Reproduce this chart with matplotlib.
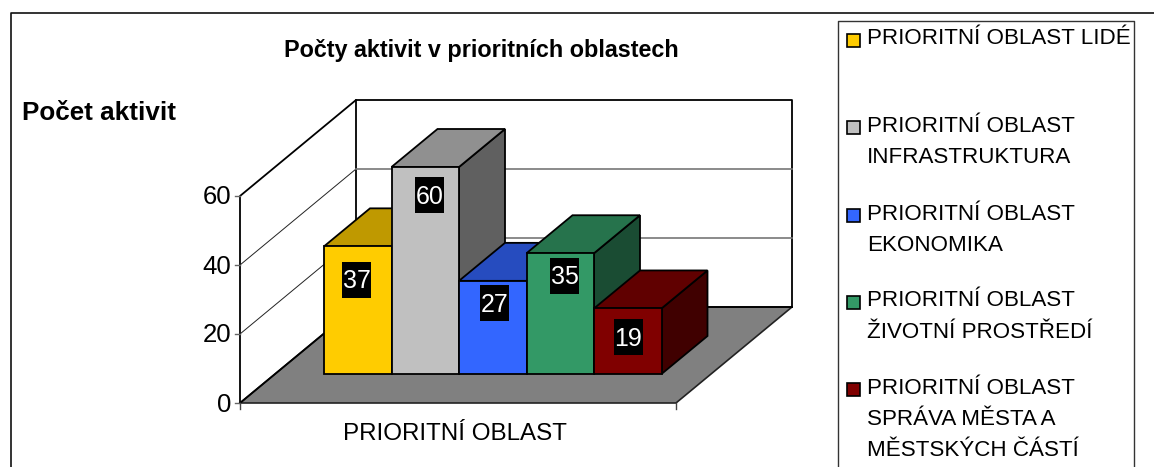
import matplotlib
matplotlib.use('Agg')
import matplotlib.pyplot as plt
from matplotlib.patches import Polygon, Rectangle

plt.rcParams['font.family'] = ['Liberation Sans', 'DejaVu Sans']

title = 'Počty aktivit v prioritních oblastech'
y_title = 'Počet aktivit'
x_label = 'PRIORITNÍ OBLAST'
values = [37, 60, 27, 35, 19]
y_ticks = [0, 20, 40, 60]
legend_labels = ['PRIORITNÍ OBLAST LIDÉ',
                 'PRIORITNÍ OBLAST\nINFRASTRUKTURA',
                 'PRIORITNÍ OBLAST\nEKONOMIKA',
                 'PRIORITNÍ OBLAST\nŽIVOTNÍ PROSTŘEDÍ',
                 'PRIORITNÍ OBLAST\nSPRÁVA MĚSTA A\nMĚSTSKÝCH ČÁSTÍ']
front_colors = ['#FFCC00', '#C0C0C0', '#3366FF', '#339966', '#800000']
top_colors = ['#BF9900', '#909090', '#264CBF', '#26734C', '#600000']
side_colors = ['#7F6600', '#606060', '#19337F', '#1A4C33', '#400000']

W, H = 1154, 467
fig = plt.figure(figsize=(W / 100, H / 100), dpi=100)
ax = fig.add_axes([0, 0, 1, 1])
ax.set_xlim(0, W)
ax.set_ylim(H, 0)
ax.axis('off')

# chart geometry in pixels
x0, y0 = 240, 403          # front left floor corner
px_per_unit = 3.45
wall_dx, wall_dy = 116, -96
floor_w = 436
bar_left, bar_w, bar_base = 324, 67.5, 374
bar_dx, bar_dy = 46, -38
lw = 1.3


def val_y(v, base=y0):
    return base - v * px_per_unit


# outer frame
ax.plot([10.5, 10.5, W], [H, 12.5, 12.5], color='#111111', lw=1.2)

# walls
top = y_ticks[-1]
ax.add_patch(Polygon([(x0, val_y(0)), (x0 + wall_dx, val_y(0) + wall_dy),
                      (x0 + wall_dx + floor_w, val_y(0) + wall_dy),
                      (x0 + floor_w, val_y(0))],
                     fc='#808080', ec='#222222', lw=1.2, zorder=1))
ax.plot([x0, x0, x0 + wall_dx, x0 + wall_dx + floor_w, x0 + wall_dx + floor_w],
        [val_y(0), val_y(top), val_y(top) + wall_dy, val_y(top) + wall_dy, val_y(0) + wall_dy],
        color='black', lw=lw, zorder=2)
ax.plot([x0 + wall_dx, x0 + wall_dx], [val_y(top) + wall_dy, val_y(0) + wall_dy],
        color='black', lw=lw, zorder=2)
ax.plot([x0 + wall_dx, x0 + wall_dx + floor_w], [val_y(0) + wall_dy] * 2,
        color='black', lw=lw, zorder=2)
ax.plot([x0, x0 + wall_dx], [val_y(0), val_y(0) + wall_dy], color='black', lw=lw, zorder=2)

# gridlines
for t in y_ticks[1:-1]:
    ax.plot([x0, x0 + wall_dx], [val_y(t), val_y(t) + wall_dy], color='#222222', lw=0.7, zorder=2)
    ax.plot([x0 + wall_dx, x0 + wall_dx + floor_w], [val_y(t) + wall_dy] * 2,
            color='#777777', lw=1.2, zorder=2)

# y ticks and labels
for t in y_ticks:
    ax.plot([x0 - 5, x0], [val_y(t), val_y(t)], color='#666666', lw=1, zorder=2)
    ax.text(x0 - 9, val_y(t) + 1.5, str(t), ha='right', va='center', fontsize=18.5, color='black')
ax.plot([x0, x0], [val_y(0), val_y(0) + 6], color='#444444', lw=1, zorder=2)
ax.plot([x0 + floor_w, x0 + floor_w], [val_y(0), val_y(0) + 6], color='#444444', lw=1, zorder=2)

# bars
for i, v in enumerate(values):
    left = bar_left + i * bar_w
    right = left + bar_w
    ytop = val_y(v, bar_base)
    z = 3 + i
    ax.add_patch(Polygon([(right, ytop), (right + bar_dx, ytop + bar_dy),
                          (right + bar_dx, bar_base + bar_dy), (right, bar_base)],
                         fc=side_colors[i], ec='black', lw=lw, zorder=z))
    ax.add_patch(Polygon([(left, ytop), (left + bar_dx, ytop + bar_dy),
                          (right + bar_dx, ytop + bar_dy), (right, ytop)],
                         fc=top_colors[i], ec='black', lw=lw, zorder=z))
    ax.add_patch(Rectangle((left, ytop), bar_w, bar_base - ytop,
                           fc=front_colors[i], ec='black', lw=lw, zorder=z))

# value labels sit in black boxes, drawn last so neighbours never cover them
label_ys = [280, 195, 303, 276, 337]
label_xs = [356.5, 429.5, 494.5, 564.5, 628.5]
for v, lx, ly in zip(values, label_xs, label_ys):
    ax.add_patch(Rectangle((lx - 14.5, ly - 18), 29, 36, fc='black', ec='none', zorder=10))
    ax.text(lx, ly + 1.5, str(v), ha='center', va='center', fontsize=18, color='white', zorder=11)

# titles
ax.text(481, 50, title, ha='center', va='center', fontsize=16.8, fontweight='bold', color='black')
ax.text(22, 113, y_title, ha='left', va='center', fontsize=18.7, fontweight='bold', color='black')
ax.text(455, 434, x_label, ha='center', va='center', fontsize=17.4, color='black')

# legend
ax.plot([838, 838, 1134, 1134], [H, 20.5, 20.5, H], color='#333333', lw=1)
key_ys = [40, 127, 215, 302, 389]
line_h = 31.5
for lab, c, ky in zip(legend_labels, front_colors, key_ys):
    ax.add_patch(Rectangle((847, ky - 6.5), 13, 13, fc=c, ec='black', lw=1.2))
    for j, part in enumerate(lab.split('\n')):
        ax.text(867, ky - 1 + j * line_h, part, ha='left', va='center', fontsize=16.1, color='black')

fig.savefig('out.png', dpi=100)
